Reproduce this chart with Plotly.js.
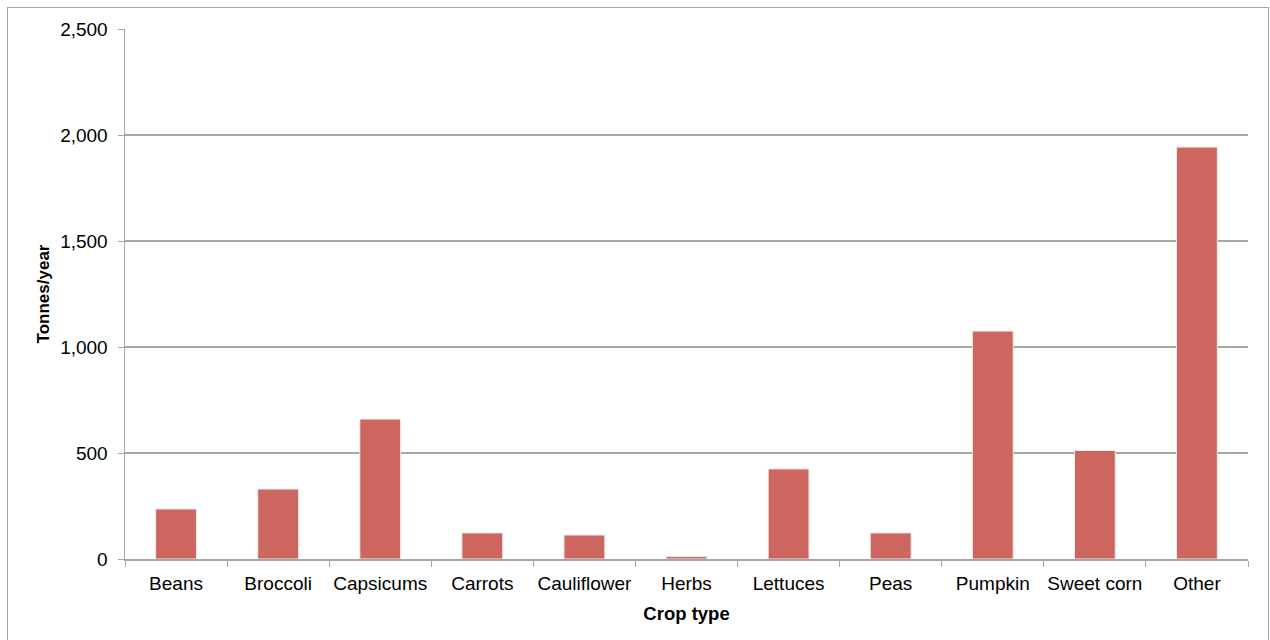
<!DOCTYPE html>
<html>
<head>
<meta charset="utf-8">
<script src="https://cdn.plot.ly/plotly-3.0.1.min.js"></script>
<style>
  html, body { margin: 0; padding: 0; background: #fff; }
  #wrap { position: relative; width: 1270px; height: 640px; overflow: hidden; }
  #chart { width: 1270px; height: 640px; }
  #frame { position: absolute; left: 7px; top: 7px; width: 1260px; height: 660px; border: 1px solid #a6a6a6; pointer-events: none; }
</style>
</head>
<body>
<div id="wrap">
  <div id="chart"></div>
  <div id="frame"></div>
</div>
<script>
const categories = ["Beans", "Broccoli", "Capsicums", "Carrots", "Cauliflower", "Herbs", "Lettuces", "Peas", "Pumpkin", "Sweet corn", "Other"];
const tonnesPerYear = [236, 330, 660, 123, 113, 12, 425, 123, 1075, 512, 1943];
const yTickValues = [0, 500, 1000, 1500, 2000, 2500];
const yTickLabels = ["0", "500", "1,000", "1,500", "2,000", "2,500"];

const trace = {
  type: "bar",
  x: categories,
  y: tonnesPerYear,
  marker: { color: "#CD665F", line: { color: "#ececec", width: 1 } },
  hoverinfo: "x+y"
};

const layout = {
  width: 1270,
  height: 640,
  margin: { l: 125, r: 22, t: 29, b: 81 },
  paper_bgcolor: "rgba(0,0,0,0)",
  plot_bgcolor: "#ffffff",
  bargap: 0.6,
  showlegend: false,
  font: { family: "Liberation Sans, Arial, sans-serif", size: 19, color: "#000" },
  xaxis: {
    type: "category",
    showline: true,
    linecolor: "#a6a6a6",
    linewidth: 1.5,
    ticks: "outside",
    tickson: "boundaries",
    ticklen: 6,
    tickcolor: "#a6a6a6",
    showgrid: false,
    tickangle: 0,
    tickfont: { size: 19 },
    ticklabelstandoff: 7,
    title: { text: "<b>Crop type</b>", font: { size: 18.5 }, standoff: 14 }
  },
  yaxis: {
    range: [0, 2500],
    tickvals: yTickValues,
    ticktext: yTickLabels,
    showline: true,
    linecolor: "#a6a6a6",
    linewidth: 1.5,
    ticks: "outside",
    ticklen: 6,
    tickcolor: "#a6a6a6",
    showgrid: true,
    gridcolor: "#a6a6a6",
    gridwidth: 1.2,
    zeroline: false,
    tickfont: { size: 19 },
    ticklabelstandoff: 6,
    title: { text: "<b>Tonnes/year</b>", font: { size: 17 }, standoff: 6 }
  }
};

Plotly.newPlot("chart", [trace], layout, { displayModeBar: false, staticPlot: true });
</script>
</body>
</html>
